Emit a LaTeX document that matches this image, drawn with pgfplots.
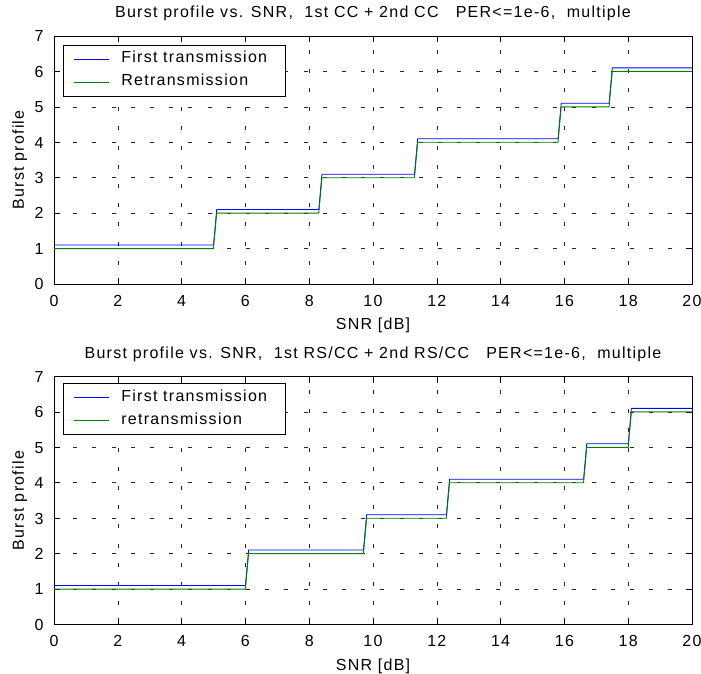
\documentclass[border=0pt]{standalone}
\usepackage{fontspec}
\setmainfont{Liberation Sans}[LetterSpace=8]
\usepackage{pgfplots}
\pgfplotsset{compat=1.18}
\definecolor{mblue}{rgb}{0,0,1}
\definecolor{mgreen}{rgb}{0,0.5,0}
\newcommand{\ff}{\fontsize{16}{19}\selectfont}
\pgfplotstableread{
x y
0 1.1
5.0 1.1
5.1 2.1
8.3 2.1
8.4 3.1
11.3 3.1
11.4 4.1
15.8 4.1
15.9 5.1
17.4 5.1
17.5 6.1
20 6.1
}\topfirst
\pgfplotstableread{
x y
0 1.0
5.0 1.0
5.1 2.0
8.3 2.0
8.4 3.0
11.3 3.0
11.4 4.0
15.8 4.0
15.9 5.0
17.4 5.0
17.5 6.0
20 6.0
}\topre
\pgfplotstableread{
x y
0 1.1
6.0 1.1
6.1 2.1
9.7 2.1
9.8 3.1
12.3 3.1
12.4 4.1
16.6 4.1
16.7 5.1
18.0 5.1
18.1 6.1
20 6.1
}\botfirst
\pgfplotstableread{
x y
0 1.0
6.0 1.0
6.1 2.0
9.7 2.0
9.8 3.0
12.3 3.0
12.4 4.0
16.6 4.0
16.7 5.0
18.0 5.0
18.1 6.0
20 6.0
}\botre
\pgfplotsset{
 mystyle/.style={
  scale only axis, width=638pt, height=248pt,
  xmin=0,xmax=20,ymin=0,ymax=7,
  xtick={0,2,...,20}, ytick={0,1,...,7},
  grid=major,
  major grid style={black!85, line width=0.6pt, dash pattern=on 4pt off 15.2pt},
  tick align=inside, major tick length=6.4pt,
  tick style={black, line width=0.6pt},
  axis line style={black, line width=0.8pt},
  /pgf/number format/assume math mode=true,
  every tick label/.append style={font=\ff},
  xticklabel style={anchor=base, yshift=-22.3pt},
  yticklabel style={anchor=base east, xshift=-7pt, yshift=-5.8pt},
  xlabel={SNR [dB]}, ylabel={Burst profile},
  label style={font=\ff},
  xlabel style={at={(axis description cs:0.5,-0.1835)}, anchor=base},
  ylabel style={at={(axis description cs:-0.0473,0.5)}, anchor=base},
  title style={font=\ff, at={(axis description cs:0.5,1.049)}, anchor=base},
  legend cell align=left,
  legend image code/.code={\draw[##1] (0pt,0pt) -- (35.6pt,0pt);},
  legend style={anchor=north west, draw=black, line width=0.8pt, fill=white,
    inner xsep=10pt, inner ysep=4.5pt, row sep=4pt, font=\ff,
    nodes={inner sep=0pt, text height=13pt, text depth=6pt},
    /tikz/every odd column/.append style={column sep=11.7pt}},
  firstl/.style={mblue, line width=0.8pt},
  rel/.style={mgreen, line width=0.9pt},
 }
}
\begin{document}
\begin{tikzpicture}
\useasboundingbox (0,0) rectangle (701pt,674pt);
\begin{axis}[mystyle, at={(54pt,390pt)}, anchor=south west,
  title={Burst profile vs. SNR,\ \ 1st CC + 2nd CC\ \ \ PER<=1e-6,\ \ multiple},
  legend style={at={(axis description cs:0.0136,0.9637)}}]
\addplot[firstl] table[x=x,y=y] {\topfirst};
\addplot[rel] table[x=x,y=y] {\topre};
\legend{First transmission\hspace*{8pt},Retransmission}
\end{axis}
\begin{axis}[mystyle, at={(54pt,49.5pt)}, anchor=south west,
  title={Burst profile vs. SNR,\ \ 1st RS/CC + 2nd RS/CC\ \ \ PER<=1e-6,\ \ multiple},
  legend style={at={(axis description cs:0.0136,0.9718)}}]
\addplot[firstl] table[x=x,y=y] {\botfirst};
\addplot[rel] table[x=x,y=y] {\botre};
\legend{First transmission\hspace*{8pt},retransmission}
\end{axis}
\end{tikzpicture}
\end{document}
